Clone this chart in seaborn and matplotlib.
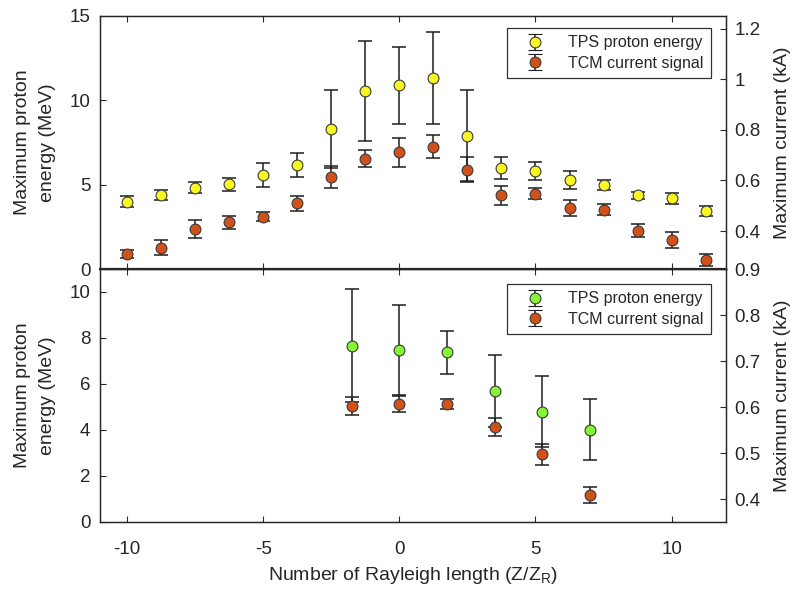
import numpy as np
import pandas as pd
import matplotlib
matplotlib.use("Agg")
import matplotlib.pyplot as plt
import seaborn as sns

# ---------------- data ----------------
z_top = [-10, -8.75, -7.5, -6.25, -5, -3.75, -2.5, -1.25, 0, 1.25,
         2.5, 3.75, 5, 6.25, 7.5, 8.75, 10, 11.25]
tps_top = [4.0, 4.38, 4.83, 5.01, 5.56, 6.17, 8.3, 10.55, 10.9, 11.32,
           7.91, 6.0, 5.82, 5.27, 4.97, 4.36, 4.2, 3.45]
tps_top_err = [0.3, 0.3, 0.35, 0.4, 0.7, 0.7, 2.3, 2.96, 2.28, 2.75,
               2.72, 0.66, 0.52, 0.52, 0.3, 0.23, 0.32, 0.3]
tcm_top = [0.308, 0.334, 0.409, 0.434, 0.456, 0.509, 0.613, 0.686, 0.711, 0.734,
           0.642, 0.541, 0.548, 0.490, 0.485, 0.401, 0.364, 0.285]
tcm_top_err = [0.016, 0.03, 0.035, 0.026, 0.018, 0.031, 0.043, 0.034, 0.056, 0.045,
               0.05, 0.039, 0.021, 0.031, 0.022, 0.026, 0.031, 0.024]

z_bot = [-1.75, 0, 1.75, 3.5, 5.25, 7]
tps_bot = [7.66, 7.47, 7.37, 5.69, 4.80, 4.02]
tps_bot_err = [2.45, 1.95, 0.92, 1.55, 1.54, 1.31]
tcm_bot = [0.602, 0.607, 0.607, 0.557, 0.497, 0.409]
tcm_bot_err = [0.019, 0.018, 0.011, 0.02, 0.022, 0.018]

label_tps = "TPS proton energy"
label_tcm = "TCM current signal"
xlabel = r"Number of Rayleigh length (Z/Z$_\mathregular{R}$)"
ylabel_left = "Maximum proton\nenergy (MeV)"
ylabel_right = "Maximum current (kA)"

# ---------------- style ----------------
sns.set_theme(style="white")
plt.rcParams["font.family"] = ["Liberation Sans", "DejaVu Sans"]
plt.rcParams["mathtext.default"] = "regular"
plt.rcParams["axes.unicode_minus"] = False

C_YELLOW = "#F8F820"
C_GREEN = "#86F532"
C_ORANGE = "#D0511A"
C_EDGE = "#3a3a3a"
C_ERR = "#1e1e1e"
C_AX = "#262626"

TICK_FS = 13.5
LABEL_FS = 14
LEG_FS = 11.5
MS = 7.8
CAP = 4.8
ELW = 1.1

fig = plt.figure(figsize=(7.95, 5.91), dpi=100)
L, W = 100 / 795, 626 / 795
H = 253 / 591
ax_top = fig.add_axes([L, 1 - 269 / 591, W, H])
ax_bot = fig.add_axes([L, 1 - 522 / 591, W, H], sharex=ax_top)
ax_top2 = ax_top.twinx()
ax_bot2 = ax_bot.twinx()


def draw(ax, x, y, e, color):
    ax.errorbar(x, y, yerr=e, fmt="none", ecolor=C_ERR, elinewidth=ELW,
                capsize=CAP, capthick=ELW, zorder=2)
    df = pd.DataFrame({"x": x, "y": y})
    sns.scatterplot(data=df, x="x", y="y", ax=ax, color=color, edgecolor=C_EDGE,
                    linewidth=0.8, s=MS ** 2, zorder=3, legend=False)
    ax.set_xlabel("")
    ax.set_ylabel("")
    h = ax.errorbar([np.nan], [np.nan], yerr=[np.nan], fmt="o", ms=MS,
                    mfc=color, mec=C_EDGE, mew=0.8, ecolor=C_ERR,
                    elinewidth=ELW, capsize=CAP, capthick=ELW)
    return h


h1 = draw(ax_top, z_top, tps_top, tps_top_err, C_YELLOW)
h2 = draw(ax_top2, z_top, tcm_top, tcm_top_err, C_ORANGE)
h3 = draw(ax_bot, z_bot, tps_bot, tps_bot_err, C_GREEN)
h4 = draw(ax_bot2, z_bot, tcm_bot, tcm_bot_err, C_ORANGE)

ax_top.set_xlim(-11, 12)
ax_top.set_xticks([-10, -5, 0, 5, 10])
ax_top.set_ylim(0, 15)
ax_top.set_yticks([0, 5, 10, 15])
ax_top2.set_ylim(0.25, 1.25)
ax_top2.set_yticks([0.4, 0.6, 0.8, 1.0, 1.2])
ax_top2.set_yticklabels(["0.4", "0.6", "0.8", "1", "1.2"])

ax_bot.set_ylim(0, 11)
ax_bot.set_yticks([0, 2, 4, 6, 8, 10])
ax_bot2.set_ylim(0.35, 0.9)
ax_bot2.set_yticks([0.4, 0.5, 0.6, 0.7, 0.8, 0.9])
ax_bot2.set_yticklabels(["0.4", "0.5", "0.6", "0.7", "0.8", "0.9"])

for ax in (ax_top, ax_bot, ax_top2, ax_bot2):
    for s in ax.spines.values():
        s.set_color(C_AX)
        s.set_linewidth(0.9)
    ax.tick_params(direction="in", length=4, width=0.8, colors=C_AX,
                   labelsize=TICK_FS, labelcolor=C_AX)
for ax in (ax_top, ax_bot):
    ax.tick_params(axis="x", top=True, bottom=True)
    ax.tick_params(axis="y", left=True, right=False, pad=7)
for ax in (ax_top2, ax_bot2):
    ax.tick_params(axis="y", right=True, left=False, pad=6)

ax_top.tick_params(axis="x", labelbottom=False)
ax_bot.tick_params(axis="x", pad=14)
ax_top.spines["bottom"].set_linewidth(1.6)

ax_bot.set_xlabel(xlabel, fontsize=LABEL_FS, color=C_AX, labelpad=5)
for ax in (ax_top, ax_bot):
    ax.set_ylabel(ylabel_left, fontsize=LABEL_FS, color=C_AX, labelpad=10,
                  linespacing=1.55)
for ax in (ax_top2, ax_bot2):
    ax.set_ylabel(ylabel_right, fontsize=LABEL_FS, color=C_AX, labelpad=10)

leg_kw = dict(loc="upper right", fontsize=LEG_FS, frameon=True, fancybox=False,
              edgecolor="#333333", framealpha=1, borderaxespad=0,
              handlelength=2.6, handletextpad=0.8, borderpad=0.45,
              labelspacing=0.35)
lg1 = ax_top2.legend([h1, h2], [label_tps, label_tcm],
                     bbox_to_anchor=((711 - 100) / 626, 1 - (28 - 16) / 253), **leg_kw)
lg2 = ax_bot2.legend([h3, h4], [label_tps, label_tcm],
                     bbox_to_anchor=((711 - 100) / 626, 1 - (284 - 269) / 253), **leg_kw)
for lg in (lg1, lg2):
    lg.get_frame().set_linewidth(0.9)
    for t in lg.get_texts():
        t.set_color(C_AX)

fig.savefig("out.png", dpi=100)
